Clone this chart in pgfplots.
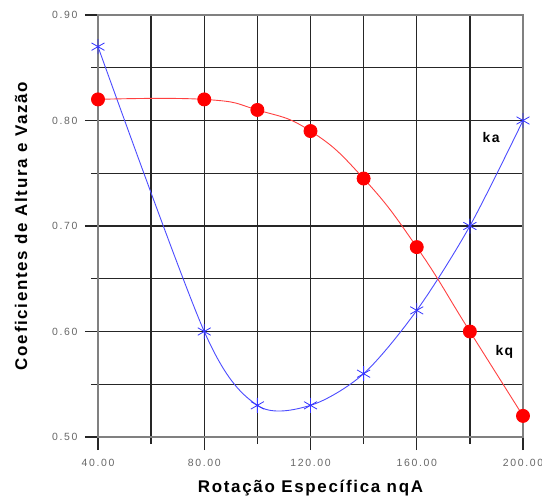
\documentclass[border=0pt]{standalone}
\usepackage{pgfplots}
\pgfplotsset{compat=1.18}
\usepackage{fontspec}
\setmainfont{Liberation Sans}
\newfontfamily\labfont[LetterSpace=10]{Liberation Sans}
\newfontfamily\tickfont[LetterSpace=16]{Liberation Sans}
\begin{document}
\begin{tikzpicture}
\begin{axis}[
  scale only axis,
  width=425bp, height=422bp,
  xmin=40, xmax=200, ymin=0.50, ymax=0.90,
  xtick={40,80,120,160,200},
  minor xtick={60,100,140,180},
  ytick={0.5,0.6,0.7,0.8,0.9},
  minor ytick={0.55,0.65,0.75,0.85},
  grid=both,
  major grid style={black!85, line width=1.3bp},
  minor grid style={black!85, line width=1.3bp},
  axis line style={black!50, line width=1.3bp},
  tick align=outside,
  major tick length=13bp,
  minor tick length=7bp,
  x tick style={black!85, line width=1.3bp},
  y tick style={black!85, line width=1.3bp},
  xtick pos=bottom, ytick pos=left,
  /pgf/number format/assume math mode=true,
  xticklabel style={/pgf/number format/.cd, fixed, fixed zerofill, precision=2, /tikz/.cd, font=\tickfont\fontsize{10.5}{11}\selectfont, text=black!60, yshift=-6bp},
  yticklabel style={/pgf/number format/.cd, fixed, fixed zerofill, precision=2, /tikz/.cd, font=\tickfont\fontsize{10.5}{11}\selectfont, text=black!60, xshift=-4bp},
  xlabel={\bfseries Rotação Específica nqA},
  ylabel={\bfseries Coeficientes de Altura e Vazão},
  xlabel style={font=\labfont\fontsize{17}{19}\selectfont, yshift=-6bp},
  ylabel style={font=\labfont\fontsize{17}{19}\selectfont, yshift=18bp},
  clip=false,
]
\coordinate (ll) at (rel axis cs:0,0);
\coordinate (ur) at (rel axis cs:1,1);
% ka
\addplot[blue!70, line width=0.9bp, smooth, mark=asterisk, mark size=7.5bp, mark options={line width=0.8bp, blue!80}] coordinates {
 (40,0.87) (80,0.60) (100,0.53) (120,0.53) (140,0.56) (160,0.62) (180,0.70) (200,0.80)};
% kq
\addplot[red!75, line width=0.9bp, smooth, tension=0.8, mark=*, mark size=6.5bp, mark options={fill=red, draw=red}] coordinates {
 (40,0.82) (80,0.82) (100,0.81) (120,0.79) (140,0.745) (160,0.68) (180,0.60) (200,0.52)};
\node[font=\bfseries\labfont\fontsize{14}{15}\selectfont] at (axis cs:188,0.784) {ka};
\node[font=\bfseries\labfont\fontsize{14}{15}\selectfont] at (axis cs:193,0.581) {kq};
\end{axis}
\pgfresetboundingbox
\path ([shift={(-98bp,-62bp)}]ll) rectangle ([shift={(19bp,15bp)}]ur);
\end{tikzpicture}
\end{document}
